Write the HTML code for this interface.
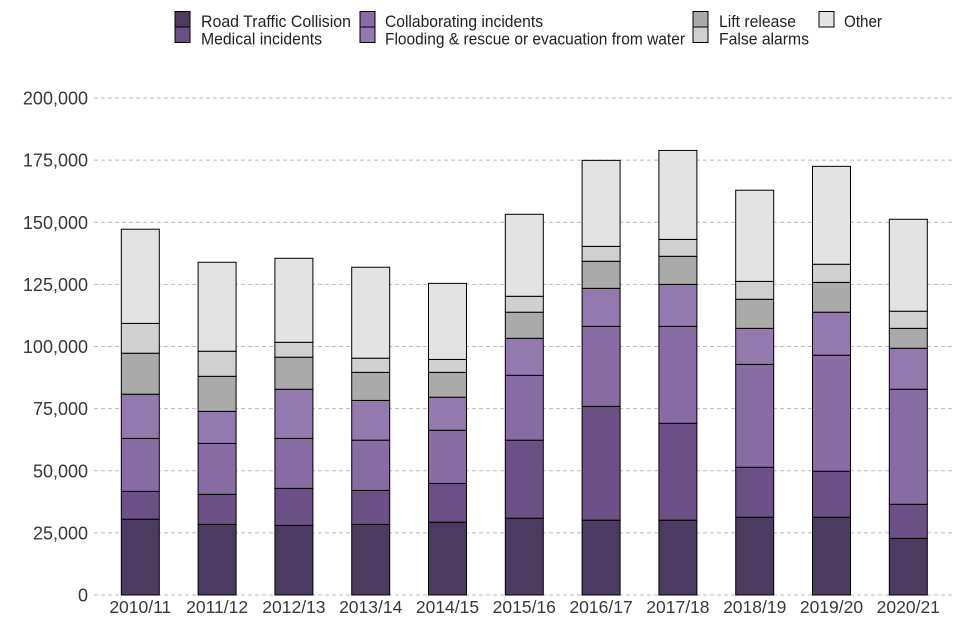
<!DOCTYPE html>
<html><head><meta charset="utf-8"><style>
body{margin:0;background:#fff;}
svg{display:block;font-family:"Liberation Sans",sans-serif;}
</style></head><body>
<svg id="chart" width="960" height="640">
<g id="legend"></g>
<g id="grid"></g>
<g id="yaxis"></g>
<g id="bars"></g>
<g id="xaxis"></g>
</svg>
<script>
const categories = ["2010/11","2011/12","2012/13","2013/14","2014/15","2015/16","2016/17","2017/18","2018/19","2019/20","2020/21"];
const seriesNames = ["Road Traffic Collision","Medical incidents","Collaborating incidents","Flooding & rescue or evacuation from water","Lift release","False alarms","Other"];
const rtc = [30.5,28.4,28.0,28.4,29.3,30.9,30.1,30.1,31.3,31.3,22.8];
const medical = [11.2,12.1,14.9,13.7,15.6,31.4,45.8,39.0,20.1,18.5,13.7];
const collaborating = [21.3,20.5,20.1,20.2,21.4,26.1,32.2,39.0,41.4,46.7,46.3];
const flooding = [17.8,12.9,19.8,16.0,13.3,14.9,15.3,16.9,14.5,17.3,16.5];
const lift = [16.5,14.1,12.9,11.3,10.0,10.5,10.9,11.3,11.7,12.0,8.0];
const falseAlarms = [12.0,10.1,6.0,5.7,5.2,6.4,6.0,6.8,7.2,7.3,6.9];
const other = [37.9,35.8,33.8,36.6,30.6,33.0,34.6,35.8,36.7,39.4,37.0];
const yTicks = [0,25,50,75,100,125,150,175,200];
const yTickLabels = ["0","25,000","50,000","75,000","100,000","125,000","150,000","175,000","200,000"];
const colors = ["#4b3b61","#6a5085","#886ca4","#9279ae","#aaaaaa","#d0d0d0","#e3e3e3"];
const series = [rtc,medical,collaborating,flooding,lift,falseAlarms,other];
const NS="http://www.w3.org/2000/svg";
const y0=595, yTop=98, yMax=200;
const y=v=>y0-(v/yMax)*(y0-yTop);
const x0=121.3, step=76.8, bw=38;
const x=i=>x0+i*step;
function mk(tag,attrs,parent){const e=document.createElementNS(NS,tag);for(const k in attrs)e.setAttribute(k,attrs[k]);parent.appendChild(e);return e;}
const grid=document.getElementById('grid'), ya=document.getElementById('yaxis'), bars=document.getElementById('bars'), xa=document.getElementById('xaxis'), lg=document.getElementById('legend');
yTicks.forEach((t,i)=>{
  const l=mk('line',{x1:94,x2:955,y1:y(t),y2:y(t),stroke:'#bbbbbb','stroke-width':1,'stroke-dasharray':'4,3'},grid);
  
  
  const tx=mk('text',{x:88,y:y(t)+6.5,'text-anchor':'end','font-size':18,fill:'#383838'},ya);
  tx.textContent=yTickLabels[i];
  
  
});
categories.forEach((c,i)=>{
  let cum=0;
  series.forEach((s,k)=>{
    const v=s[i];
    const r=mk('rect',{x:x(i),y:y(cum+v),width:bw,height:y(cum)-y(cum+v),fill:colors[k],stroke:'#000','stroke-width':1},bars);
    
    
    cum+=v;
  });
  const tx=mk('text',{x:x(i)+bw/2,y:613,'text-anchor':'middle','font-size':17.5,fill:'#383838'},xa);
  tx.textContent=c;
  
  
});
const legPos=[[175,201,11.5,150,0],[175,201,27,121,2],[360,385,11.5,158,0],[360,385,27,300,2],[693,719,11.5,77,0],[693,719,27,90,2],[819,844,11.5,38,0]];
seriesNames.forEach((n,k)=>{
  const p=legPos[k];
  const g=mk('g',{},lg);
  
  
  mk('rect',{x:p[0],y:p[2],width:15,height:15.5,fill:colors[k],stroke:'#000','stroke-width':1},g);
  const t=mk('text',{x:p[1],y:p[2]+15.5+p[4],'font-size':16.5,fill:'#222',textLength:p[3],lengthAdjust:'spacingAndGlyphs'},g);
  t.textContent=n;
});
</script>
</body></html>
